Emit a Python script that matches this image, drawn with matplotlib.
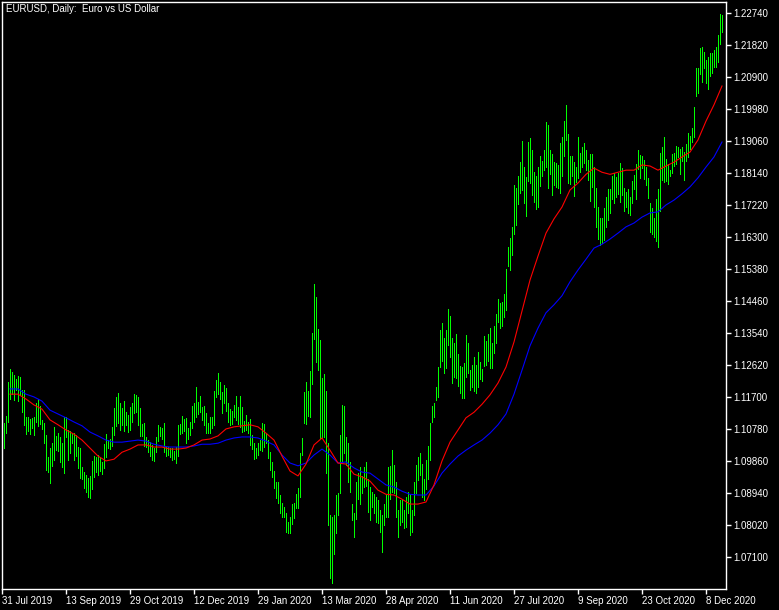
import matplotlib
matplotlib.use('Agg')
import matplotlib.pyplot as plt
import numpy as np

# EURUSD daily bars, 1 Aug 2019 .. 18 Dec 2020
highs = [
    1.1096, 1.1116, 1.1214, 1.1251, 1.1242, 1.1234, 1.1222, 1.1231, 1.1228, 1.1191,
    1.1191, 1.1113, 1.1113, 1.1107, 1.1110, 1.1113, 1.1153, 1.1165, 1.1145, 1.1105,
    1.1096, 1.1062, 1.0998, 1.1024, 1.1038, 1.1085, 1.1059, 1.1067, 1.1056, 1.1038,
    1.1113, 1.1113, 1.1076, 1.1073, 1.1067, 1.1067, 1.1062, 1.1027, 1.1024, 1.0970,
    1.0955, 1.0946, 1.0938, 1.0944, 1.0987, 1.1001, 1.0998, 1.1004, 1.0998, 1.0984,
    1.1035, 1.1064, 1.1047, 1.1050, 1.1085, 1.1139, 1.1171, 1.1182, 1.1153, 1.1139,
    1.1159, 1.1127, 1.1119, 1.1142, 1.1153, 1.1179, 1.1177, 1.1171, 1.1139, 1.1093,
    1.1096, 1.1056, 1.1047,
    1.1041, 1.1033, 1.1024, 1.1056, 1.1091, 1.1085, 1.1082, 1.1096, 1.1030, 1.1027,
    1.1024, 1.1024, 1.1015, 1.1027, 1.1091, 1.1093, 1.1116, 1.1107, 1.1110, 1.1082,
    1.1099, 1.1145, 1.1153, 1.1200, 1.1156, 1.1174, 1.1142, 1.1145, 1.1125, 1.1096,
    1.1113, 1.1113, 1.1188, 1.1220, 1.1240, 1.1214, 1.1185, 1.1205, 1.1197, 1.1153,
    1.1136, 1.1130, 1.1148, 1.1174, 1.1142, 1.1174, 1.1142, 1.1102, 1.1119, 1.1099,
    1.1107, 1.1062, 1.1038, 1.1024, 1.1038, 1.1047, 1.1096, 1.1093, 1.1067,
    1.1047, 1.1012, 1.0984, 1.0958, 1.0926, 1.0926, 1.0889, 1.0866, 1.0855, 1.0837,
    1.0811, 1.0826, 1.0863, 1.0866, 1.0892, 1.0909, 1.1009, 1.1053, 1.1185, 1.1214,
    1.1188, 1.1246, 1.1355, 1.1496, 1.1458, 1.1366, 1.1335, 1.1225, 1.1237, 1.1188,
    1.1038, 1.0832, 1.0826, 1.0832, 1.0889, 1.0895, 1.1062, 1.1148, 1.1145, 1.1056,
    1.1038, 1.0984, 1.0863, 1.0837, 1.0926, 1.0952, 1.0970, 1.0944, 1.0970, 1.0984,
    1.0935, 1.0912, 1.0897, 1.0892, 1.0883, 1.0875, 1.0846, 1.0832, 1.0863, 1.0889,
    1.0970, 1.0973, 1.1018, 1.0975, 1.0926, 1.0846, 1.0875, 1.0875, 1.0846, 1.0883,
    1.0897, 1.0889, 1.0846, 1.0926, 1.0975, 1.0998,
    1.1009, 1.0977, 1.0935, 1.0990, 1.1030, 1.1096, 1.1145, 1.1153, 1.1200, 1.1257,
    1.1363, 1.1383, 1.1340, 1.1363, 1.1424, 1.1404, 1.1340, 1.1326, 1.1352, 1.1294,
    1.1260, 1.1257, 1.1268, 1.1349, 1.1326, 1.1248, 1.1263, 1.1286, 1.1263, 1.1300,
    1.1271, 1.1251, 1.1346, 1.1332, 1.1352, 1.1369, 1.1326, 1.1375, 1.1409, 1.1453,
    1.1441, 1.1444, 1.1467, 1.1539, 1.1602, 1.1628, 1.1660, 1.1780, 1.1772, 1.1806,
    1.1846, 1.1907, 1.1832, 1.1803, 1.1904, 1.1915, 1.1881, 1.1818, 1.1806, 1.1832,
    1.1864, 1.1849, 1.1881, 1.1961, 1.1953, 1.1881, 1.1869, 1.1846, 1.1843, 1.1838,
    1.1901, 1.1918, 1.1964, 1.2010, 1.1927, 1.1864, 1.1864, 1.1846, 1.1832, 1.1918,
    1.1872, 1.1890, 1.1901, 1.1881, 1.1852, 1.1869, 1.1869, 1.1832, 1.1772, 1.1717,
    1.1685, 1.1685, 1.1714, 1.1746, 1.1769, 1.1769, 1.1806, 1.1815, 1.1803, 1.1815,
    1.1843, 1.1829, 1.1772, 1.1760, 1.1769, 1.1746, 1.1792, 1.1809, 1.1841, 1.1881,
    1.1866, 1.1864, 1.1852, 1.1832, 1.1800, 1.1728, 1.1714, 1.1685, 1.1740, 1.1769,
    1.1872, 1.1890, 1.1918, 1.1855, 1.1841, 1.1823, 1.1869, 1.1872, 1.1892, 1.1890,
    1.1884, 1.1890, 1.1875, 1.1898, 1.1930, 1.1921, 1.1944, 1.2004, 1.2116, 1.2116,
    1.2174, 1.2177, 1.2163, 1.2140, 1.2148, 1.2160, 1.2160, 1.2168, 1.2178, 1.2212,
    1.2272, 1.2269,
]

lows = [
    1.1024, 1.1067, 1.1099, 1.1165, 1.1179, 1.1162, 1.1191, 1.1159, 1.1177, 1.1127,
    1.1091, 1.1064, 1.1073, 1.1064, 1.1082, 1.1062, 1.1099, 1.1088, 1.1093, 1.1079,
    1.1038, 1.0961, 1.0955, 1.0923, 1.0973, 1.0990, 1.1018, 1.1015, 1.0984, 1.0970,
    1.0952, 1.1056, 1.0990, 1.1009, 1.1038, 1.0990, 1.1001, 1.0967, 1.0938, 1.0935,
    1.0909, 1.0897, 1.0883, 1.0880, 1.0906, 1.0941, 1.0955, 1.0946, 1.0958, 1.0949,
    1.0967, 1.0998, 1.1024, 1.1021, 1.1030, 1.1062, 1.1088, 1.1096, 1.1076, 1.1091,
    1.1073, 1.1091, 1.1070, 1.1076, 1.1099, 1.1125, 1.1127, 1.1091, 1.1059, 1.1059,
    1.1030, 1.1027, 1.1012,
    1.1001, 1.0990, 1.0987, 1.1012, 1.1044, 1.1059, 1.1050, 1.1012, 1.1001, 1.1004,
    1.0998, 1.0990, 1.0993, 1.0981, 1.1001, 1.1064, 1.1067, 1.1073, 1.1038, 1.1050,
    1.1062, 1.1082, 1.1099, 1.1113, 1.1122, 1.1127, 1.1105, 1.1091, 1.1067, 1.1067,
    1.1067, 1.1082, 1.1091, 1.1171, 1.1179, 1.1165, 1.1125, 1.1153, 1.1130, 1.1099,
    1.1091, 1.1093, 1.1113, 1.1105, 1.1093, 1.1085, 1.1070, 1.1073, 1.1076, 1.1067,
    1.1033, 1.1021, 1.0993, 1.0996, 1.1004, 1.1018, 1.1015, 1.1027, 1.1038,
    1.0996, 1.0961, 1.0941, 1.0909, 1.0880, 1.0866, 1.0837, 1.0826, 1.0826, 1.0783,
    1.0780, 1.0780, 1.0806, 1.0823, 1.0852, 1.0852, 1.0883, 1.1004, 1.1096, 1.1093,
    1.1116, 1.1113, 1.1208, 1.1338, 1.1271, 1.1248, 1.1053, 1.1053, 1.1056, 1.0952,
    1.0803, 1.0650, 1.0636, 1.0719, 1.0780, 1.0832, 1.0895, 1.0981, 1.1009, 1.0975,
    1.0926, 1.0897, 1.0817, 1.0768, 1.0820, 1.0877, 1.0863, 1.0895, 1.0912, 1.0915,
    1.0840, 1.0817, 1.0855, 1.0837, 1.0811, 1.0809, 1.0783, 1.0725, 1.0803, 1.0826,
    1.0826, 1.0877, 1.0897, 1.0895, 1.0826, 1.0768, 1.0803, 1.0811, 1.0794, 1.0797,
    1.0837, 1.0774, 1.0783, 1.0832, 1.0895, 1.0932,
    1.0946, 1.0883, 1.0875, 1.0905, 1.0935, 1.0990, 1.1099, 1.1113, 1.1162, 1.1171,
    1.1257, 1.1274, 1.1240, 1.1254, 1.1320, 1.1286, 1.1211, 1.1228, 1.1225, 1.1202,
    1.1182, 1.1168, 1.1168, 1.1228, 1.1240, 1.1191, 1.1199, 1.1188, 1.1182, 1.1199,
    1.1222, 1.1217, 1.1260, 1.1263, 1.1274, 1.1254, 1.1254, 1.1297, 1.1326, 1.1387,
    1.1369, 1.1375, 1.1401, 1.1421, 1.1547, 1.1536, 1.1579, 1.1639, 1.1665, 1.1726,
    1.1757, 1.1766, 1.1728, 1.1691, 1.1792, 1.1786, 1.1751, 1.1731, 1.1711, 1.1717,
    1.1777, 1.1806, 1.1823, 1.1832, 1.1771, 1.1812, 1.1751, 1.1780, 1.1774, 1.1771,
    1.1757, 1.1806, 1.1864, 1.1910, 1.1786, 1.1783, 1.1806, 1.1748, 1.1789, 1.1800,
    1.1818, 1.1832, 1.1843, 1.1823, 1.1795, 1.1734, 1.1774, 1.1717, 1.1660, 1.1625,
    1.1608, 1.1613, 1.1622, 1.1660, 1.1680, 1.1700, 1.1740, 1.1728, 1.1746, 1.1754,
    1.1731, 1.1751, 1.1705, 1.1717, 1.1700, 1.1694, 1.1728, 1.1769, 1.1740, 1.1826,
    1.1800, 1.1829, 1.1797, 1.1780, 1.1743, 1.1645, 1.1639, 1.1631, 1.1619, 1.1602,
    1.1705, 1.1795, 1.1789, 1.1792, 1.1783, 1.1806, 1.1815, 1.1835, 1.1841, 1.1861,
    1.1812, 1.1849, 1.1795, 1.1849, 1.1861, 1.1884, 1.1904, 1.1918, 1.2036, 1.2045,
    1.2100, 1.2076, 1.2117, 1.2074, 1.2056, 1.2094, 1.2102, 1.2120, 1.2120, 1.2135,
    1.2186, 1.2219,
]

# moving averages, read every 4th bar (bars 3, 7, 11, ... 359)
ma_red = [
    1.1179, 1.1179, 1.1165, 1.1148, 1.1136, 1.1105, 1.1091, 1.1076, 1.1064, 1.1047,
    1.1024, 1.1001, 1.0987, 1.0992, 1.1012, 1.1021, 1.1033, 1.1033, 1.1027, 1.1027,
    1.1021, 1.1021, 1.1024, 1.1033, 1.1047, 1.1050, 1.1059, 1.1079, 1.1085, 1.1088,
    1.1091, 1.1085, 1.1067, 1.1047, 1.1001, 1.0958, 1.0944, 1.0978, 1.1033, 1.1053,
    1.1018, 1.0981, 1.0978, 1.0949, 1.0941, 1.0929, 1.0903, 1.0891, 1.0889, 1.0877,
    1.0863, 1.0863, 1.0869, 1.0918, 1.0987, 1.1041, 1.1076, 1.1111, 1.1127, 1.1150,
    1.1177, 1.1211, 1.1257, 1.1329, 1.1418, 1.1507, 1.1576, 1.1642, 1.1683, 1.1717,
    1.1766, 1.1786, 1.1811, 1.1829, 1.1817, 1.1811, 1.1817, 1.1823, 1.1823, 1.1838,
    1.1835, 1.1823, 1.1835, 1.1846, 1.1861, 1.1875, 1.1910, 1.1964, 1.2011, 1.2065,
]
ma_blue = [
    1.1194, 1.1194, 1.1179, 1.1171, 1.1159, 1.1133, 1.1122, 1.1111, 1.1099, 1.1088,
    1.1070, 1.1059, 1.1047, 1.1041, 1.1041, 1.1044, 1.1047, 1.1044, 1.1035, 1.1030,
    1.1027, 1.1027, 1.1027, 1.1030, 1.1035, 1.1035, 1.1038, 1.1047, 1.1053, 1.1056,
    1.1056, 1.1053, 1.1044, 1.1033, 1.1004, 1.0981, 1.0973, 1.0981, 1.1004, 1.1021,
    1.1004, 1.0981, 1.0984, 1.0967, 1.0955, 1.0952, 1.0935, 1.0918, 1.0912, 1.0900,
    1.0891, 1.0889, 1.0889, 1.0915, 1.0952, 1.0978, 1.1001, 1.1018, 1.1033, 1.1047,
    1.1067, 1.1091, 1.1122, 1.1179, 1.1248, 1.1318, 1.1369, 1.1413, 1.1436, 1.1462,
    1.1502, 1.1536, 1.1567, 1.1599, 1.1610, 1.1625, 1.1642, 1.1660, 1.1671, 1.1688,
    1.1700, 1.1703, 1.1723, 1.1737, 1.1755, 1.1775, 1.1801, 1.1832, 1.1861, 1.1904,
]

tick_bars = [-1, 31, 63, 95, 127, 159, 191, 223, 255, 287, 319, 351]
tick_labels = ['31 Jul 2019', '13 Sep 2019', '29 Oct 2019', '12 Dec 2019',
               '29 Jan 2020', '13 Mar 2020', '28 Apr 2020', '11 Jun 2020',
               '27 Jul 2020', '9 Sep 2020', '23 Oct 2020', '8 Dec 2020']
price_ticks = [1.07100 + 0.0092 * k for k in range(18)]

plt.rcParams['font.family'] = ['Liberation Sans', 'DejaVu Sans']

W, H = 779, 610
fig = plt.figure(figsize=(W / 100, H / 100), dpi=100, facecolor='black')
ax = fig.add_axes([2 / W, (H - 589) / H, (726 - 2) / W, (589 - 2) / H])
ax.set_facecolor('black')

x = np.arange(len(highs))
ax.vlines(x, lows, highs, colors='#00ff00', linewidth=0.72, antialiased=False)

ma_x = x[3::4]
ax.plot(ma_x, ma_blue, color='#0000ff', linewidth=0.8)
ax.plot(ma_x, ma_red, color='#ff0000', linewidth=0.8)

ax.set_xlim(-1, 361)
ax.set_ylim(1.06188, 1.23065)

for s in ax.spines.values():
    s.set_color('white')
    s.set_linewidth(1)

ax.yaxis.tick_right()
ax.set_yticks(price_ticks)
ax.set_yticklabels(['%.5f' % p for p in price_ticks])
ax.set_xticks(tick_bars)
ax.set_xticklabels(tick_labels, ha='left')
ax.tick_params(colors='white', labelsize=7, length=3.5, width=1, pad=1.5)

fig.text(6 / W, 1 - 9 / H, 'EURUSD, Daily:  Euro vs US Dollar', color='white',
         fontsize=7, ha='left', va='center')

fig.savefig('out.png', dpi=100, facecolor='black')
